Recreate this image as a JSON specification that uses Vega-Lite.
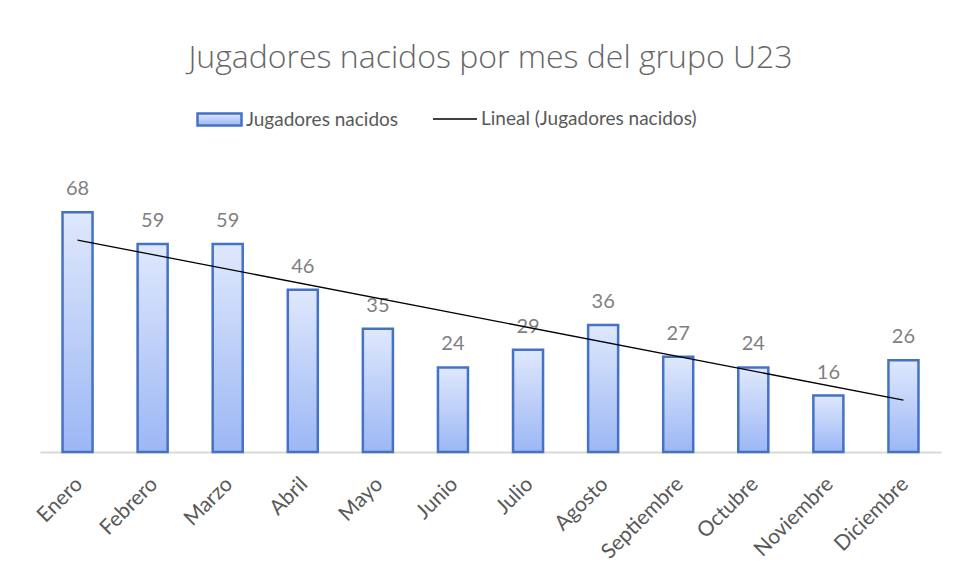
{
  "$schema": "https://vega.github.io/schema/vega-lite/v6.json",
  "autosize": {"type": "none"},
  "width": 901,
  "height": 282,
  "padding": {"left": 40, "top": 170, "right": 15, "bottom": 128},
  "background": "#ffffff",
  "title": {
    "text": "Jugadores nacidos por mes del grupo U23",
    "font": "Open Sans",
    "fontSize": 32,
    "fontWeight": 300,
    "color": "#666666",
    "anchor": "middle",
    "frame": "group",
    "offset": 21
  },
  "data": {
    "values": [
      {"mes": "Enero", "n": 1, "valor": 68, "serie": "Jugadores nacidos", "tendencia": "Lineal (Jugadores nacidos)"},
      {"mes": "Febrero", "n": 2, "valor": 59, "serie": "Jugadores nacidos", "tendencia": "Lineal (Jugadores nacidos)"},
      {"mes": "Marzo", "n": 3, "valor": 59, "serie": "Jugadores nacidos", "tendencia": "Lineal (Jugadores nacidos)"},
      {"mes": "Abril", "n": 4, "valor": 46, "serie": "Jugadores nacidos", "tendencia": "Lineal (Jugadores nacidos)"},
      {"mes": "Mayo", "n": 5, "valor": 35, "serie": "Jugadores nacidos", "tendencia": "Lineal (Jugadores nacidos)"},
      {"mes": "Junio", "n": 6, "valor": 24, "serie": "Jugadores nacidos", "tendencia": "Lineal (Jugadores nacidos)"},
      {"mes": "Julio", "n": 7, "valor": 29, "serie": "Jugadores nacidos", "tendencia": "Lineal (Jugadores nacidos)"},
      {"mes": "Agosto", "n": 8, "valor": 36, "serie": "Jugadores nacidos", "tendencia": "Lineal (Jugadores nacidos)"},
      {"mes": "Septiembre", "n": 9, "valor": 27, "serie": "Jugadores nacidos", "tendencia": "Lineal (Jugadores nacidos)"},
      {"mes": "Octubre", "n": 10, "valor": 24, "serie": "Jugadores nacidos", "tendencia": "Lineal (Jugadores nacidos)"},
      {"mes": "Noviembre", "n": 11, "valor": 16, "serie": "Jugadores nacidos", "tendencia": "Lineal (Jugadores nacidos)"},
      {"mes": "Diciembre", "n": 12, "valor": 26, "serie": "Jugadores nacidos", "tendencia": "Lineal (Jugadores nacidos)"}
    ]
  },
  "layer": [
    {
      "encoding": {
        "x": {
          "field": "mes",
          "type": "nominal",
          "sort": null,
          "scale": {"paddingInner": 0.6, "paddingOuter": 0.3},
          "axis": {
            "title": null,
            "labelAngle": -45,
            "labelFont": "Lato",
            "labelFontSize": 21,
            "labelColor": "#595959",
            "labelPadding": 21,
            "labelOffset": -6,
            "ticks": false,
            "domainColor": "#d9d9d9",
            "domainWidth": 2
          }
        },
        "y": {
          "field": "valor",
          "type": "quantitative",
          "scale": {"domain": [0, 80]},
          "axis": null
        }
      },
      "layer": [
        {
          "mark": {
            "type": "bar",
            "fill": {
              "gradient": "linear",
              "x1": 0, "y1": 0, "x2": 0, "y2": 1,
              "stops": [
                {"offset": 0, "color": "#dfe8fc"},
                {"offset": 1, "color": "#9cb7f5"}
              ]
            },
            "stroke": "#4472c4",
            "strokeWidth": 2.5
          },
          "encoding": {
            "stroke": {
              "field": "serie",
              "type": "nominal",
              "scale": {"domain": ["Jugadores nacidos"], "range": ["#4472c4"]},
              "legend": {
                "title": null,
                "orient": "none",
                "direction": "horizontal",
                "legendX": 156,
                "legendY": -74,
                "labelFont": "Lato",
                "labelFontSize": 19,
                "labelColor": "#595959",
                "labelLimit": 400,
                "labelOffset": 3,
                "symbolSize": 1936,
                "symbolType": "M-1,-0.27H1V0.27H-1Z",
                "symbolFillColor": "#c6d6fa",
                "symbolStrokeWidth": 2.5,
                "symbolOpacity": 1
              }
            }
          }
        },
        {
          "mark": {"type": "text", "baseline": "bottom", "dy": -13, "font": "Lato", "fontSize": 20, "color": "#7f7f7f"},
          "encoding": {
            "text": {"field": "valor", "type": "quantitative"}
          }
        }
      ]
    },
    {
      "transform": [
        {"regression": "valor", "on": "n", "groupby": ["tendencia"]}
      ],
      "mark": {"type": "line", "strokeWidth": 1.3},
      "encoding": {
        "x": {"field": "n", "type": "quantitative", "scale": {"domain": [0.5, 12.5]}, "axis": null},
        "y": {"field": "valor", "type": "quantitative"},
        "color": {
          "field": "tendencia",
          "type": "nominal",
          "scale": {"domain": ["Lineal (Jugadores nacidos)"], "range": ["#000000"]},
          "legend": {
            "title": null,
            "orient": "none",
            "direction": "horizontal",
            "legendX": 392,
            "legendY": -74,
            "labelFont": "Lato",
            "labelFontSize": 19,
            "labelColor": "#595959",
            "labelLimit": 400,
            "labelOffset": 3,
            "symbolSize": 1936,
            "symbolType": "stroke",
            "symbolStrokeWidth": 1.3,
            "symbolOpacity": 1
          }
        }
      }
    }
  ],
  "resolve": {"scale": {"x": "independent"}},
  "config": {
    "view": {"stroke": null}
  }
}
